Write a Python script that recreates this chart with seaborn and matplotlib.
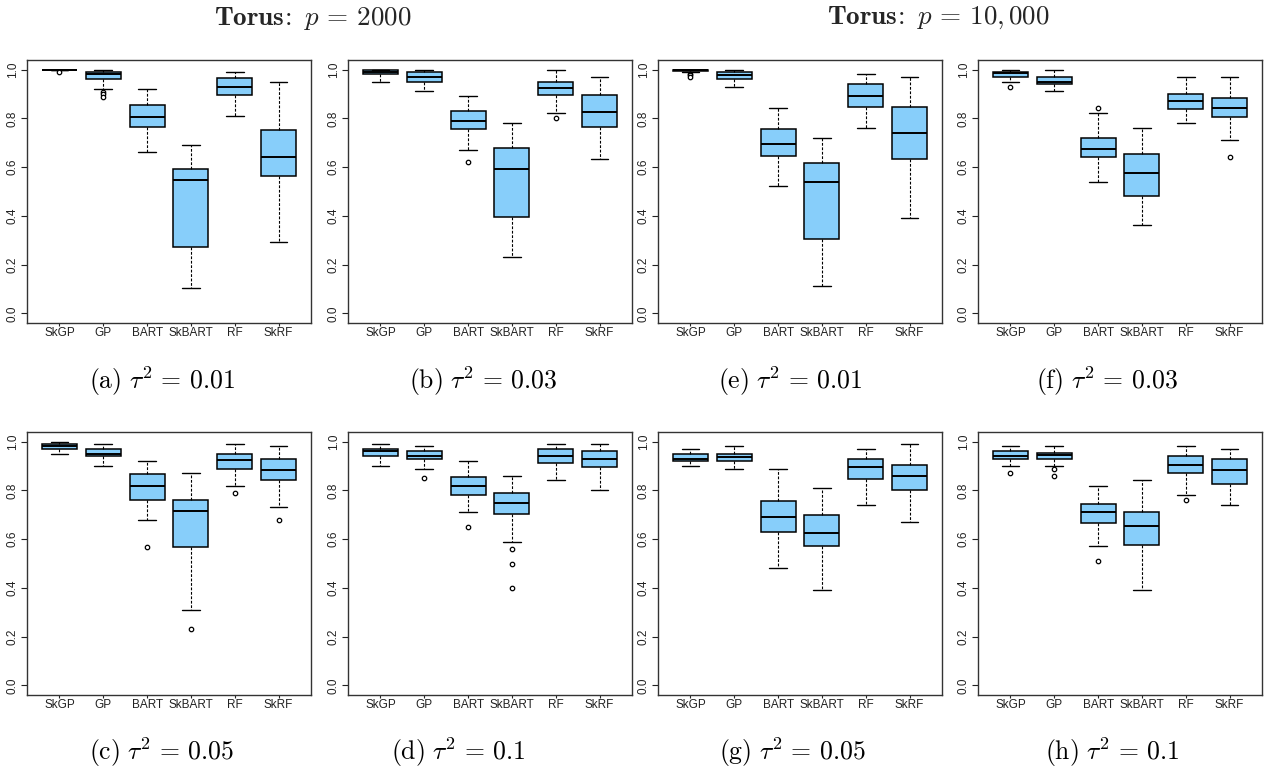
import numpy as np
import pandas as pd
import matplotlib
matplotlib.use("Agg")
import matplotlib.pyplot as plt
import seaborn as sns

sns.set_theme(style="white")
plt.rcParams['font.family'] = ['Liberation Sans', 'DejaVu Sans']
plt.rcParams['mathtext.fontset'] = 'cm'

methods = ["SkGP", "GP", "BART", "SkBART", "RF", "SkRF"]

# five-number summaries per method: [lower whisker, Q1, median, Q3, upper whisker]
stats_a = [[1.000, 1.000, 1.000, 1.000, 1.000],
           [0.922, 0.962, 0.982, 0.992, 1.000],
           [0.662, 0.766, 0.806, 0.856, 0.922],
           [0.102, 0.272, 0.547, 0.592, 0.691],
           [0.812, 0.896, 0.931, 0.966, 0.992],
           [0.291, 0.562, 0.641, 0.751, 0.951]]
out_a = {"SkGP": [0.99], "GP": [0.909, 0.90, 0.89]}

stats_b = [[0.951, 0.982, 0.990, 1.000, 1.000],
           [0.911, 0.951, 0.971, 0.990, 1.000],
           [0.672, 0.757, 0.791, 0.831, 0.891],
           [0.231, 0.396, 0.591, 0.680, 0.782],
           [0.821, 0.896, 0.927, 0.951, 1.000],
           [0.632, 0.766, 0.827, 0.896, 0.971]]
out_b = {"BART": [0.621], "RF": [0.80]}

stats_c = [[0.951, 0.970, 0.981, 0.990, 1.000],
           [0.900, 0.940, 0.951, 0.970, 0.990],
           [0.680, 0.760, 0.820, 0.866, 0.920],
           [0.311, 0.567, 0.715, 0.760, 0.871],
           [0.820, 0.890, 0.926, 0.951, 0.990],
           [0.730, 0.841, 0.885, 0.930, 0.981]]
out_c = {"BART": [0.569], "SkBART": [0.23], "RF": [0.79], "SkRF": [0.68]}

stats_d = [[0.900, 0.940, 0.960, 0.970, 0.990],
           [0.890, 0.930, 0.940, 0.960, 0.981],
           [0.711, 0.780, 0.820, 0.855, 0.920],
           [0.590, 0.705, 0.750, 0.790, 0.860],
           [0.841, 0.911, 0.940, 0.970, 0.990],
           [0.800, 0.896, 0.930, 0.960, 0.990]]
out_d = {"GP": [0.85], "BART": [0.65], "SkBART": [0.561, 0.50, 0.40]}

stats_e = [[0.990, 0.993, 0.997, 1.000, 1.000],
           [0.931, 0.962, 0.980, 0.990, 1.000],
           [0.522, 0.646, 0.695, 0.755, 0.841],
           [0.111, 0.306, 0.541, 0.615, 0.721],
           [0.761, 0.845, 0.891, 0.942, 0.982],
           [0.391, 0.632, 0.742, 0.845, 0.971]]
out_e = {"SkGP": [0.982, 0.977, 0.972]}

stats_f = [[0.951, 0.971, 0.985, 0.990, 1.000],
           [0.911, 0.942, 0.951, 0.971, 1.000],
           [0.541, 0.641, 0.676, 0.721, 0.821],
           [0.361, 0.482, 0.577, 0.655, 0.761],
           [0.782, 0.837, 0.871, 0.901, 0.971],
           [0.712, 0.806, 0.841, 0.882, 0.971]]
out_f = {"SkGP": [0.931], "BART": [0.841], "SkRF": [0.641]}

stats_g = [[0.900, 0.920, 0.930, 0.951, 0.970],
           [0.890, 0.920, 0.936, 0.951, 0.981],
           [0.481, 0.630, 0.690, 0.756, 0.890],
           [0.391, 0.571, 0.626, 0.700, 0.811],
           [0.741, 0.845, 0.896, 0.930, 0.970],
           [0.671, 0.800, 0.860, 0.905, 0.990]]
out_g = {}

stats_h = [[0.900, 0.930, 0.940, 0.960, 0.981],
           [0.900, 0.930, 0.945, 0.955, 0.981],
           [0.571, 0.665, 0.711, 0.745, 0.820],
           [0.391, 0.575, 0.654, 0.711, 0.841],
           [0.780, 0.871, 0.905, 0.940, 0.981],
           [0.741, 0.826, 0.885, 0.930, 0.970]]
out_h = {"SkGP": [0.871], "GP": [0.89, 0.86], "BART": [0.51], "RF": [0.76]}

captions = [r"$\mathrm{(a)}\ \tau^2\,=\,0.01$", r"$\mathrm{(b)}\ \tau^2\,=\,0.03$",
            r"$\mathrm{(e)}\ \tau^2\,=\,0.01$", r"$\mathrm{(f)}\ \tau^2\,=\,0.03$",
            r"$\mathrm{(c)}\ \tau^2\,=\,0.05$", r"$\mathrm{(d)}\ \tau^2\,=\,0.1$",
            r"$\mathrm{(g)}\ \tau^2\,=\,0.05$", r"$\mathrm{(h)}\ \tau^2\,=\,0.1$"]
titles = [r"$\mathbf{Torus}\!\mathbf{:}\ p\,=\,2000$",
          r"$\mathbf{Torus}\!\mathbf{:}\ p\,=\,10{,}\,000$"]
yticks = [0.0, 0.2, 0.4, 0.6, 0.8, 1.0]

panels = [(stats_a, out_a), (stats_b, out_b), (stats_e, out_e), (stats_f, out_f),
          (stats_c, out_c), (stats_d, out_d), (stats_g, out_g), (stats_h, out_h)]

W, H = 1265, 776
fig = plt.figure(figsize=(W / 100, H / 100), dpi=100)

lefts = [27, 348, 658, 978]
tops = [60, 432]
pw, ph = 284, 263
cap_x = [162, 483, 790, 1107, 162, 458, 792, 1112]
cap_y = [381, 752]

for i, (stats, outs) in enumerate(panels):
    r, c = divmod(i, 4)
    ax = fig.add_axes([lefts[c] / W, 1 - (tops[r] + ph) / H, pw / W, ph / H])
    rows = []
    for m, s in zip(methods, stats):
        for v in s:
            rows.append({"method": m, "value": v})
    df = pd.DataFrame(rows)
    sns.boxplot(data=df, x="method", y="value", order=methods, ax=ax,
                whis=(0, 100), width=0.8, color="#87CEFA", saturation=1,
                linecolor="black", linewidth=1.1, showfliers=False,
                whiskerprops={"linestyle": (0, (2.5, 1.5)), "linewidth": 0.8},
                capprops={"linewidth": 1.0},
                medianprops={"linewidth": 1.4, "color": "black"})
    orows = [{"method": m, "value": v} for m, vals in outs.items() for v in vals]
    if orows:
        odf = pd.DataFrame(orows)
        sns.stripplot(data=odf, x="method", y="value", order=methods, ax=ax,
                      jitter=False, marker="o", size=3.2, color="white",
                      edgecolor="black", linewidth=0.9, zorder=5)
    ax.set_xlim(-0.74, 5.74)
    ax.set_ylim(-0.04, 1.04)
    ax.set_yticks(yticks)
    ax.set_yticklabels([f"{t:.1f}" for t in yticks], rotation=90, va="center")
    ax.set_xlabel("")
    ax.set_ylabel("")
    ax.tick_params(axis="both", direction="out", labelsize=8.5, colors="#222222")
    ax.tick_params(axis="y", length=4, width=0.8, pad=2, left=True)
    ax.tick_params(axis="x", length=2, width=0.8, pad=1, bottom=True)
    for sp in ax.spines.values():
        sp.set_visible(True)
        sp.set_color("#333333")
        sp.set_linewidth(1.0)
    fig.text(cap_x[i] / W, 1 - cap_y[r] / H, captions[i], ha="center", va="center",
             fontsize=18.5, color="black")

fig.text(313 / W, 1 - 18 / H, titles[0], ha="center", va="center", fontsize=19.5)
fig.text(938 / W, 1 - 18 / H, titles[1], ha="center", va="center", fontsize=19.5)

fig.savefig("out.png", dpi=100, facecolor="white")
